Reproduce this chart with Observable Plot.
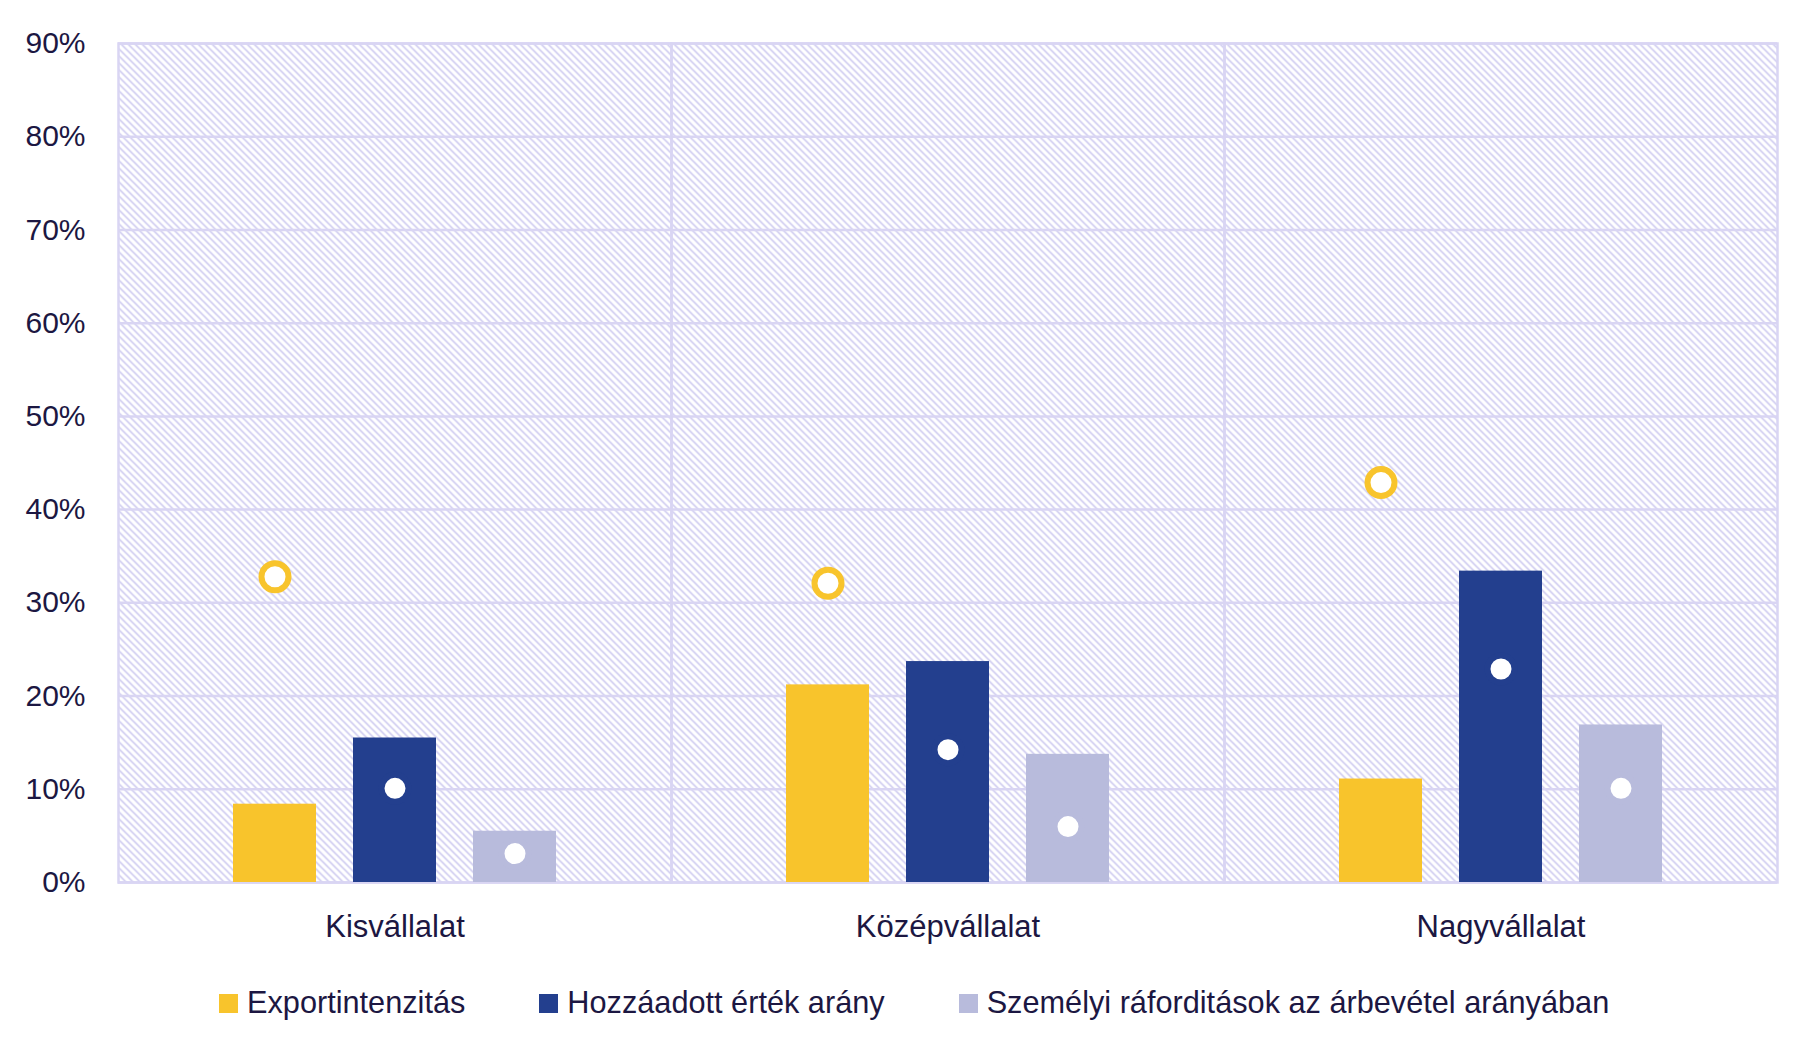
<!DOCTYPE html>
<html>
<head>
<meta charset="utf-8">
<script src="https://cdn.jsdelivr.net/npm/d3@7"></script>
<script src="https://cdn.jsdelivr.net/npm/@observablehq/plot@0.6"></script>
<style>
  body { margin: 0; background: #fff; font-family: "Liberation Sans", Arial, sans-serif; color: #1c1742; }
  #legend { display: flex; align-items: center; padding-left: 219px; padding-top: 25px; height: 36px; font-size: 30.7px; }
  .item { display: flex; align-items: center; margin-right: 74px; }
  .sw { width: 19px; height: 19px; margin-right: 9px; }
</style>
</head>
<body>
<div id="chart"></div>
<div id="legend"></div>
<script>
// ---- data ----
const categories = ["Kisvállalat", "Középvállalat", "Nagyvállalat"];
const series = ["Exportintenzitás", "Hozzáadott érték arány", "Személyi ráforditások az árbevétel arányában"];
const colors = ["#F8C42C", "#233F8E", "#B8BBDC"];
// bar values (%)
const barExport = [8.4, 21.2, 11.1];
const barHozzaadott = [15.5, 23.7, 33.4];
const barSzemelyi = [5.5, 13.75, 16.9];
// dot values (%)
const dotExport = [32.8, 32.1, 42.9];
const dotHozzaadott = [10.1, 14.25, 22.9];
const dotSzemelyi = [3.1, 6.0, 10.1];
const yTicks = [0, 10, 20, 30, 40, 50, 60, 70, 80, 90];

const barSets = [barExport, barHozzaadott, barSzemelyi];
const dotSets = [dotExport, dotHozzaadott, dotSzemelyi];
const bars = [], dots = [];
categories.forEach((c, i) => {
  series.forEach((s, j) => {
    bars.push({cat: c, ser: s, v: barSets[j][i]});
    dots.push({cat: c, ser: s, v: dotSets[j][i]});
  });
});

const textColor = "#1c1742";
const gridColor = "#d9d5f3";

const defs = () => {
  const d = d3.create("svg:defs");
  const p = d.append("pattern").attr("id", "hatch").attr("patternUnits", "userSpaceOnUse")
    .attr("width", 7).attr("height", 7);
  p.append("rect").attr("width", 7).attr("height", 7).attr("fill", "#ffffff");
  p.append("path").attr("d", "M0,0L7,7M-1,6L1,8M6,-1L8,1")
    .attr("stroke", "#c9c5ee").attr("stroke-width", 1.5);
  return d.node();
};

const chart = Plot.plot({
  width: 1820,
  height: 960,
  marginLeft: 118,
  marginRight: 43,
  marginTop: 43,
  marginBottom: 78,
  style: {fontFamily: "'Liberation Sans', Arial, sans-serif", color: textColor, background: "#fff"},
  fx: {domain: categories, padding: 0, label: null},
  x: {domain: series, paddingInner: 0.306, paddingOuter: 0.94, axis: null},
  y: {domain: [0, 90], axis: null},
  color: {domain: series, range: colors},
  marks: [
    defs,
    Plot.frame({fill: "url(#hatch)"}),
    Plot.gridY(yTicks, {stroke: gridColor, strokeOpacity: 1, strokeWidth: 2.5}),
    Plot.frame({stroke: gridColor, strokeWidth: 2.5}),
    Plot.barY(bars, {fx: "cat", x: "ser", y: "v", fill: "ser"}),
    Plot.dot(dots, {fx: "cat", x: "ser", y: "v", r: 13.5, fill: "#fff", stroke: "ser", strokeWidth: 6}),
    Plot.axisY(yTicks, {tickSize: 0, tickPadding: 33, fontSize: 30, tickFormat: d => d + "%", fill: textColor, label: null}),
    Plot.axisFx({anchor: "bottom", tickSize: 0, tickPadding: 32, fontSize: 31, label: null, fill: textColor})
  ]
});
document.getElementById("chart").appendChild(chart);

const legend = d3.select("#legend");
series.forEach((s, j) => {
  const it = legend.append("div").attr("class", "item");
  it.append("div").attr("class", "sw").style("background", colors[j]);
  it.append("span").text(s);
});
</script>
</body>
</html>
